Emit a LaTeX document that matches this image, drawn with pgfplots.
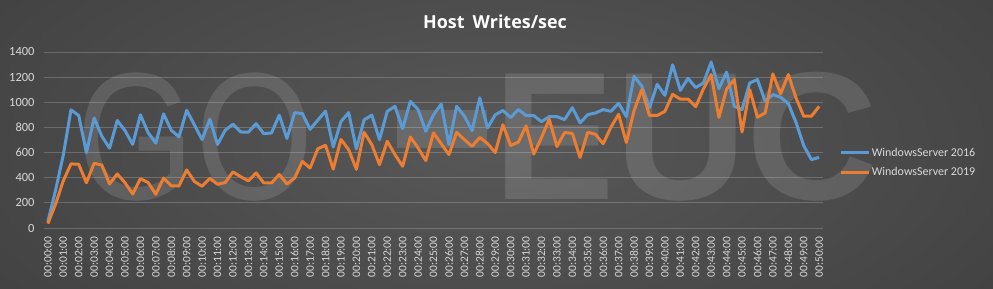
\documentclass[border=0pt]{standalone}
\usepackage{pgfplots}
\usepackage{pgfplotstable}
\pgfplotsset{compat=1.18}
\usepackage{fontspec}
\setmainfont{Carlito}
\newfontfamily\titlefont{Open Sans}
\newfontfamily\wmfont{Liberation Sans}
\definecolor{bgin}{HTML}{585858}
\definecolor{bgout}{HTML}{262626}
\definecolor{sA}{HTML}{5B9BD5}
\definecolor{sB}{HTML}{ED7D31}
\definecolor{lbl}{HTML}{D9D9D9}
\pgfdeclareradialshading{bgshade}{\pgfpoint{0bp}{0bp}}{color(0bp)=(bgin); color(50bp)=(bgout)}

\pgfplotstableread{
t a b
0 50 35
1 300 190
2 580 375
3 940 510
4 895 507
5 600 360
6 875 515
7 730 500
8 635 350
9 855 430
10 775 360
11 665 270
12 900 392
13 758 362
14 675 268
15 908 398
16 778 336
17 725 334
18 936 462
19 820 370
20 703 332
21 866 395
22 665 348
23 778 362
24 825 446
25 764 408
26 762 375
27 830 438
28 750 358
29 756 358
30 898 426
31 712 350
32 918 398
33 910 530
34 785 477
35 858 630
36 930 658
37 645 468
38 846 705
39 918 623
40 629 467
41 860 762
42 898 663
43 703 504
44 928 690
45 968 584
46 790 491
47 1008 724
48 942 637
49 770 536
50 900 756
51 985 670
52 663 584
53 968 761
54 890 703
55 775 650
56 1035 720
57 796 672
58 900 600
59 935 822
60 878 656
61 942 683
62 895 812
63 894 588
64 846 720
65 886 865
66 886 648
67 862 760
68 958 752
69 836 561
70 902 762
71 915 745
72 942 670
73 928 802
74 992 904
75 886 680
76 1207 932
77 1130 1101
78 955 895
79 1143 895
80 1055 928
81 1298 1064
82 1095 1025
83 1190 1025
84 1117 965
85 1154 1107
86 1320 1220
87 1108 880
88 1240 1105
89 968 1181
90 942 764
91 1154 1101
92 1181 881
93 1008 915
94 1061 1226
95 1040 1067
96 990 1220
97 840 1035
98 655 889
99 544 889
100 562 968
}\datatable

\begin{document}
\begin{tikzpicture}[x=1bp,y=1bp]
\begin{scope}
\clip (0,0) rectangle (993,288);
\shade[shading=bgshade] (-200,-170) rectangle (1193,458);
\end{scope}
% GO-EUC watermark
\node[text=white, opacity=0.12, inner sep=0pt, font=\wmfont\fontsize{182}{182}\selectfont] at (195,151) {\scalebox{0.84}[1]{GO}};
\fill[white, opacity=0.12] (397,140) rectangle (487,178);
\node[text=white, opacity=0.12, inner sep=0pt, font=\wmfont\bfseries\fontsize{183}{183}\selectfont] at (686,151) {EUC};
\node[text=white, font=\titlefont\bfseries\fontsize{18}{20}\selectfont] at (495,266) {Host\hspace{0.45em}Writes/sec};
\begin{axis}[
  at={(44bp,60bp)}, anchor=south west,
  scale only axis, width=779bp, height=176bp,
  xmin=-0.5, xmax=100.5, ymin=0, ymax=1400,
  axis line style={draw=none},
  ytick={0,200,...,1400},
  xtick={0,2,...,100},
  xticklabels={00:00:00,00:01:00,00:02:00,00:03:00,00:04:00,00:05:00,00:06:00,00:07:00,00:08:00,00:09:00,00:10:00,00:11:00,00:12:00,00:13:00,00:14:00,00:15:00,00:16:00,00:17:00,00:18:00,00:19:00,00:20:00,00:21:00,00:22:00,00:23:00,00:24:00,00:25:00,00:26:00,00:27:00,00:28:00,00:29:00,00:30:00,00:31:00,00:32:00,00:33:00,00:34:00,00:35:00,00:36:00,00:37:00,00:38:00,00:39:00,00:40:00,00:41:00,00:42:00,00:43:00,00:44:00,00:45:00,00:46:00,00:47:00,00:48:00,00:49:00,00:50:00},
  major tick length=0pt,
  ymajorgrids,
  major grid style={draw=white, opacity=0.2, line width=0.8bp},
  tick label style={text=lbl, font=\fontsize{11.5}{12}\selectfont},
  yticklabel style={font=\fontsize{12.5}{13}\selectfont},
  xticklabel style={rotate=90, anchor=east},
  xticklabel shift={5bp},
  yticklabel shift={6bp},
  /pgf/number format/1000 sep={},
  /pgf/number format/assume math mode=true,
  legend style={draw=none, fill=none, at={(1,0.372)}, anchor=west, xshift=16bp,
    font=\fontsize{12}{14}\selectfont, text=lbl, row sep=6bp, inner sep=0pt},
  legend cell align=left,
  legend image code/.code={\draw[#1, line width=2.6bp] (0bp,0bp) -- (28bp,0bp);},
]
\addplot[sA, line width=3bp, line join=round] table[x=t, y=a] {\datatable};
\addlegendentry{WindowsServer 2016}
\addplot[sB, line width=3bp, line join=round] table[x=t, y=b] {\datatable};
\addlegendentry{WindowsServer 2019}
\end{axis}
\end{tikzpicture}
\end{document}
